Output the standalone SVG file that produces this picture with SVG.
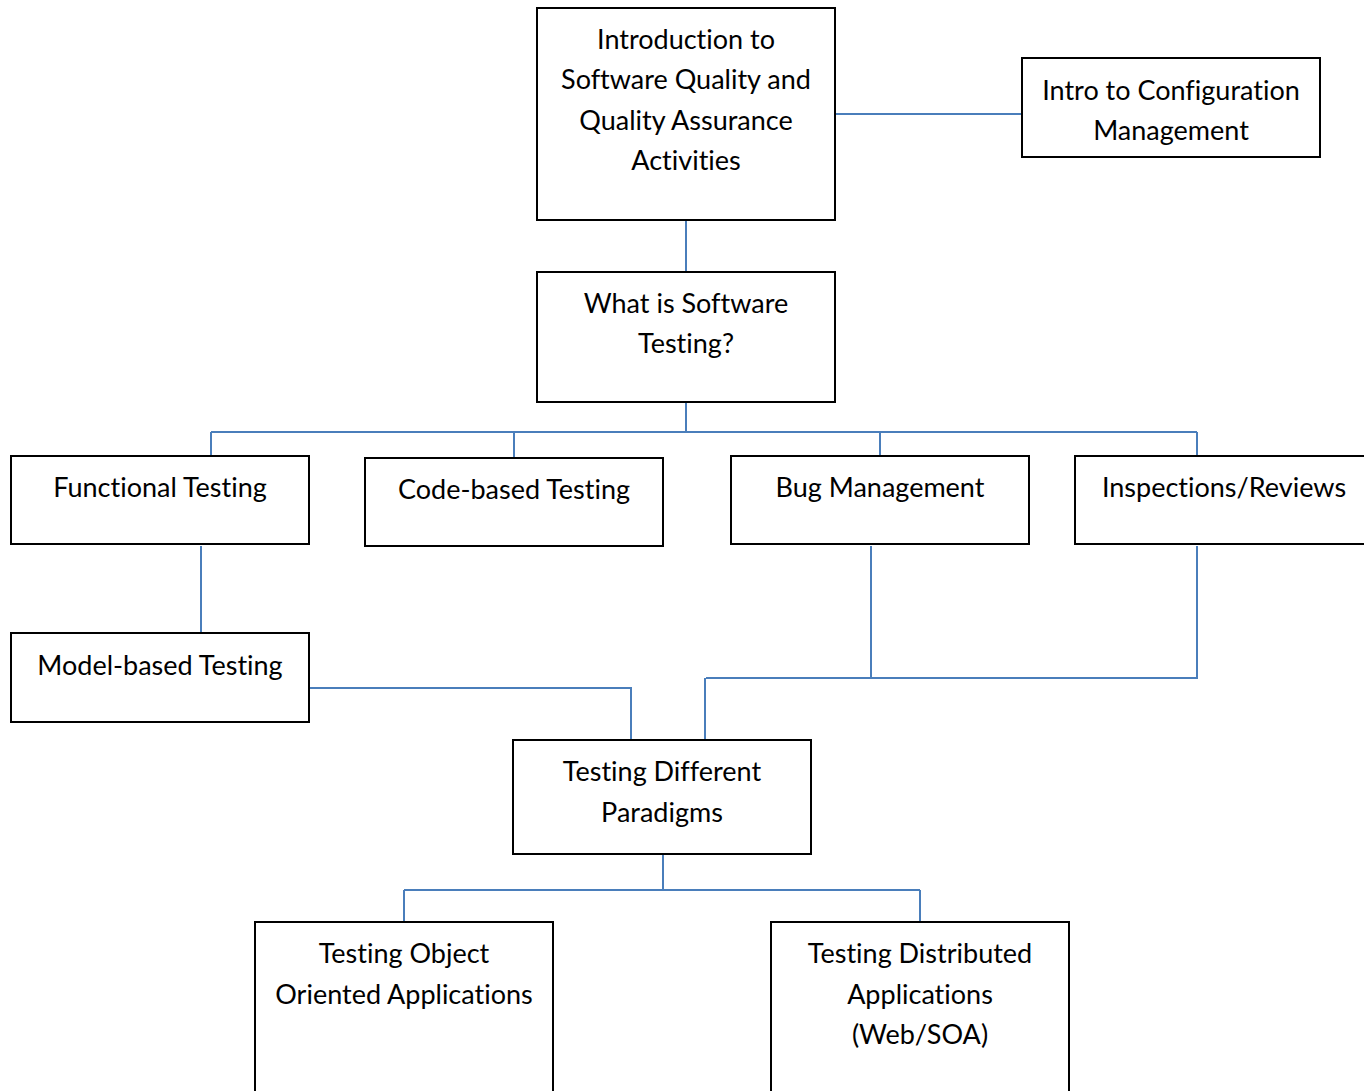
<svg xmlns="http://www.w3.org/2000/svg" width="1364" height="1091" viewBox="0 0 1364 1091">
<style>
.box{fill:#fff;stroke:#000;stroke-width:2}
.t{font-family:Lato,"Open Sans","Liberation Sans",sans-serif;font-size:27px;fill:#000;text-anchor:middle;font-variant-ligatures:none}
.c{fill:none;stroke:#4a7ebb;stroke-width:2}
</style>
<rect width="1364" height="1091" fill="#fff"/>
<g id="connectors">
<path class="c" d="M835 114H1022"/>
<path class="c" d="M686 220V272"/>
<path class="c" d="M686 402V432M211 432H1197M211 432V456M514 432V458M880 432V456M1197 432V456"/>
<path class="c" d="M201 546V633"/>
<path class="c" d="M309 688H631V740"/>
<path class="c" d="M871 546V678M1197 546V678H706M705 678V740"/>
<path class="c" d="M663 854V890M404 890H920M404 890V922M920 890V922"/>
</g>
<g id="n-intro"><rect class="box" x="537" y="8" width="298" height="212"/>
<text class="t" x="686" y="49">Introduction to</text><text class="t" x="686" y="89">Software Quality and</text><text class="t" x="686" y="130">Quality Assurance</text><text class="t" x="686" y="170">Activities</text></g>
<g id="n-config"><rect class="box" x="1022" y="58" width="298" height="99"/>
<text class="t" x="1171" y="100">Intro to Configuration</text><text class="t" x="1171" y="140">Management</text></g>
<g id="n-what"><rect class="box" x="537" y="272" width="298" height="130"/>
<text class="t" x="686" y="313">What is Software</text><text class="t" x="686" y="353">Testing?</text></g>
<g id="n-functional"><rect class="box" x="11" y="456" width="298" height="88"/>
<text class="t" x="160" y="497">Functional Testing</text></g>
<g id="n-code"><rect class="box" x="365" y="458" width="298" height="88"/>
<text class="t" x="514" y="499">Code-based Testing</text></g>
<g id="n-bug"><rect class="box" x="731" y="456" width="298" height="88"/>
<text class="t" x="880" y="497">Bug Management</text></g>
<g id="n-insp"><rect class="box" x="1075" y="456" width="298" height="88"/>
<text class="t" x="1224" y="497">Inspections/Reviews</text></g>
<g id="n-model"><rect class="box" x="11" y="633" width="298" height="89"/>
<text class="t" x="160" y="675">Model-based Testing</text></g>
<g id="n-paradigms"><rect class="box" x="513" y="740" width="298" height="114"/>
<text class="t" x="662" y="781">Testing Different</text><text class="t" x="662" y="822">Paradigms</text></g>
<g id="n-oo"><rect class="box" x="255" y="922" width="298" height="180"/>
<text class="t" x="404" y="963">Testing Object</text><text class="t" x="404" y="1004">Oriented Applications</text></g>
<g id="n-dist"><rect class="box" x="771" y="922" width="298" height="180"/>
<text class="t" x="920" y="963">Testing Distributed</text><text class="t" x="920" y="1004">Applications</text><text class="t" x="920" y="1044">(Web/SOA)</text></g>
</svg>
